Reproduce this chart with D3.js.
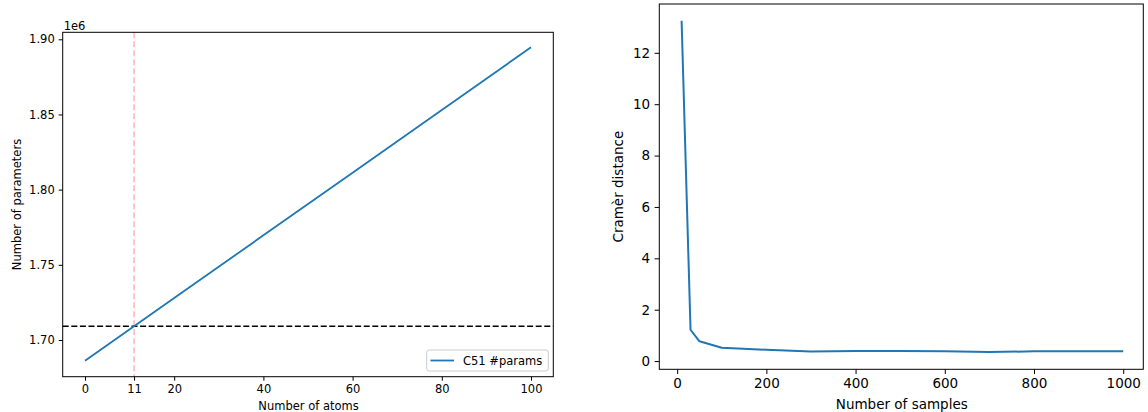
<!DOCTYPE html>
<html>
<head>
<meta charset="utf-8">
<script src="https://cdn.jsdelivr.net/npm/d3@7"></script>
<style>
  html, body { margin: 0; padding: 0; background: #fff; }
  svg { display: block; font-family: "DejaVu Sans", sans-serif; }
</style>
</head>
<body>
<svg id="chart" width="1148" height="412"></svg>
<script>
// ---- Left panel data ----
const atoms = [0, 20, 40, 60, 80, 100];
const c51Params = [1686200, 1727900, 1769600, 1811300, 1853000, 1894700];
const refAtoms = 11;
const refParams = 1709100;
const leftXTicks = [0, 11, 20, 40, 60, 80, 100];
const leftYTicks = [1700000, 1750000, 1800000, 1850000, 1900000];

// ---- Right panel data ----
const samples = [10, 30, 50, 100, 200, 300, 400, 500, 600, 700, 800, 900, 1000];
const cramerDist = [13.25, 1.22, 0.77, 0.52, 0.44, 0.37, 0.39, 0.39, 0.38, 0.35, 0.38, 0.38, 0.38];
const rightXTicks = [0, 200, 400, 600, 800, 1000];
const rightYTicks = [0, 2, 4, 6, 8, 10, 12];

const svg = d3.select("#chart");
const blue = "#1f77b4";

// ================= LEFT PANEL =================
{
  const L = 62.7, R = 553.3, T = 32.3, B = 376.7;
  const fs = 11.5, tick = 4;
  const x = d3.scaleLinear().domain([-5, 105]).range([L, R]);
  const y = d3.scaleLinear().domain([1675590, 1904660]).range([B, T]);
  const g = svg.append("g");

  const xa = g.append("g").attr("transform", `translate(0,${B})`)
    .call(d3.axisBottom(x).tickValues(leftXTicks).tickFormat(d3.format("d")).tickSize(tick).tickPadding(4));
  const ya = g.append("g").attr("transform", `translate(${L},0)`)
    .call(d3.axisLeft(y).tickValues(leftYTicks).tickFormat(d => (d / 1e6).toFixed(2)).tickSize(tick).tickPadding(4));
  [xa, ya].forEach(a => {
    a.select(".domain").remove();
    a.selectAll("text").attr("font-size", fs).attr("fill", "#000").attr("font-family", "DejaVu Sans");
    a.selectAll("line").attr("stroke", "#000").attr("stroke-width", 1);
  });

  g.append("line").attr("x1", x(refAtoms)).attr("x2", x(refAtoms)).attr("y1", T).attr("y2", B)
    .attr("stroke", "rgba(255,0,0,0.3)").attr("stroke-width", 1.5).attr("stroke-dasharray", "6,3");
  g.append("line").attr("x1", L).attr("x2", R).attr("y1", y(refParams)).attr("y2", y(refParams))
    .attr("stroke", "#000").attr("stroke-width", 1.6).attr("stroke-dasharray", "6,2.6");

  g.append("path").datum(atoms.map((a, i) => [a, c51Params[i]]))
    .attr("fill", "none").attr("stroke", blue).attr("stroke-width", 1.8)
    .attr("d", d3.line().x(d => x(d[0])).y(d => y(d[1])));

  g.append("rect").attr("x", L).attr("y", T).attr("width", R - L).attr("height", B - T)
    .attr("fill", "none").attr("stroke", "#000").attr("stroke-width", 1);

  g.append("text").attr("x", L + 1).attr("y", 29.5).attr("font-size", fs).text("1e6");

  g.append("text").attr("x", (L + R) / 2 + 0.5).attr("y", 409.5).attr("text-anchor", "middle")
    .attr("font-size", fs).text("Number of atoms");
  g.append("text").attr("transform", `translate(21,${(T + B) / 2}) rotate(-90)`)
    .attr("text-anchor", "middle").attr("font-size", fs).text("Number of parameters");

  const lg = g.append("g");
  lg.append("rect").attr("x", 426.7).attr("y", 350).attr("width", 121.6).attr("height", 21)
    .attr("rx", 2.5).attr("fill", "rgba(255,255,255,0.8)").attr("stroke", "#ccc").attr("stroke-width", 1);
  lg.append("line").attr("x1", 430.5).attr("x2", 454).attr("y1", 360.5).attr("y2", 360.5)
    .attr("stroke", blue).attr("stroke-width", 1.8);
  lg.append("text").attr("x", 463).attr("y", 364.7).attr("font-size", fs).text("C51 #params");
}

// ================= RIGHT PANEL =================
{
  const L = 659.3, R = 1143.3, T = 4, B = 369.3;
  const fs = 13.5, tick = 4.7;
  const x = d3.scaleLinear().domain([-40, 1045]).range([L, R]);
  const y = d3.scaleLinear().domain([-0.32, 13.9]).range([B, T]);
  const g = svg.append("g");

  const xa = g.append("g").attr("transform", `translate(0,${B})`)
    .call(d3.axisBottom(x).tickValues(rightXTicks).tickFormat(d3.format("d")).tickSize(tick).tickPadding(4.5));
  const ya = g.append("g").attr("transform", `translate(${L},0)`)
    .call(d3.axisLeft(y).tickValues(rightYTicks).tickFormat(d3.format("d")).tickSize(tick).tickPadding(4.5));
  [xa, ya].forEach(a => {
    a.select(".domain").remove();
    a.selectAll("text").attr("font-size", fs).attr("fill", "#000").attr("font-family", "DejaVu Sans");
    a.selectAll("line").attr("stroke", "#000").attr("stroke-width", 1);
  });

  g.append("path").datum(samples.map((s, i) => [s, cramerDist[i]]))
    .attr("fill", "none").attr("stroke", blue).attr("stroke-width", 2)
    .attr("stroke-linejoin", "round")
    .attr("d", d3.line().x(d => x(d[0])).y(d => y(d[1])));

  g.append("rect").attr("x", L).attr("y", T).attr("width", R - L).attr("height", B - T)
    .attr("fill", "none").attr("stroke", "#000").attr("stroke-width", 1);

  g.append("text").attr("x", (L + R) / 2 + 0.5).attr("y", 409).attr("text-anchor", "middle")
    .attr("font-size", fs).text("Number of samples");
  g.append("text").attr("transform", `translate(623,${(T + B) / 2}) rotate(-90)`)
    .attr("text-anchor", "middle").attr("font-size", fs).text("Cramèr distance");
}
</script>
</body>
</html>
